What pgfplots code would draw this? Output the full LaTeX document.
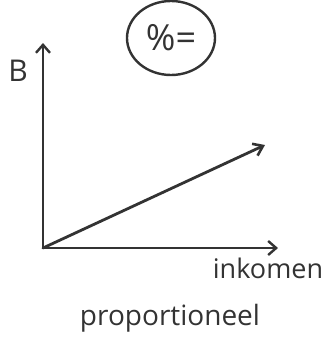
\documentclass[border=0pt]{standalone}
\usepackage{pgfplots}
\pgfplotsset{compat=1.18}
\usepackage{fontspec}
\setmainfont{Open Sans}
\usetikzlibrary{arrows.meta,shapes.geometric}
\definecolor{pen}{HTML}{333333}
\begin{document}
\begin{tikzpicture}
\useasboundingbox (-43pt,-95pt) rectangle (281pt,248pt);
\begin{axis}[
  scale only axis, width=235pt, height=205pt,
  xmin=0, xmax=235, ymin=0, ymax=205,
  axis lines=left, axis line style={pen, line width=2.6pt, line cap=round, -{Straight Barb[length=8pt,width=14pt,line width=2.4pt]}},
  xtick=\empty, ytick=\empty, clip=false,
]
\addplot[pen, line width=2.8pt, line cap=round, -{Straight Barb[length=9pt,width=13pt,line width=2.6pt]}] coordinates {(0,0) (222,103)};
\node[text=pen, font=\fontsize{30}{32}\selectfont] at (axis cs:-25,177) {B};
\node[draw=pen, line width=2.4pt, ellipse, minimum width=88pt, minimum height=74pt, inner sep=0pt, text=pen, font=\fontsize{36}{40}\selectfont] at (axis cs:128,210) {\%=};
\node[text=pen, font=\fontsize{27}{29}\selectfont] at (axis cs:225,-20) {inkomen};
\node[text=pen, font=\fontsize{28}{30}\selectfont] at (axis cs:127,-70) {proportioneel};
\end{axis}
\end{tikzpicture}
\end{document}
